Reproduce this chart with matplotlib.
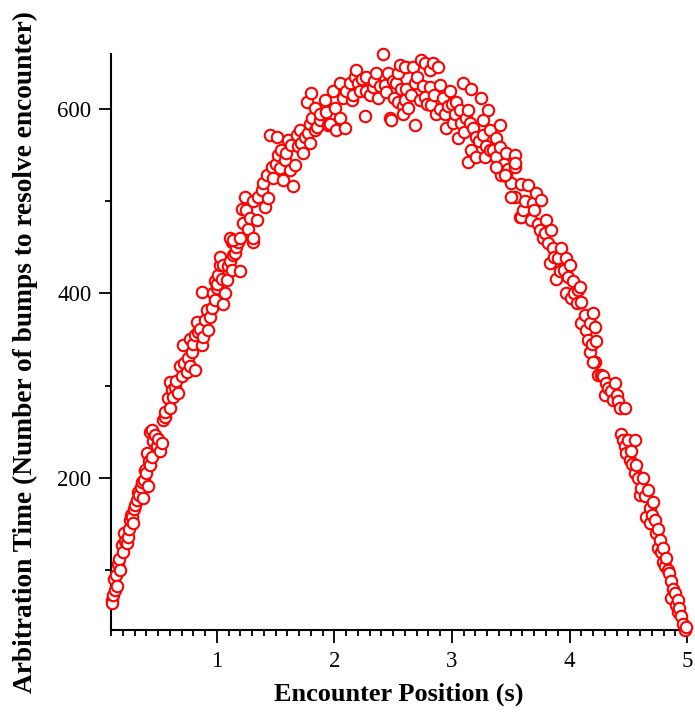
import numpy as np
import matplotlib.pyplot as plt
from matplotlib.ticker import MultipleLocator, FixedLocator

# encounter position (s) and arbitration time (bumps)
pos = [0.104, 0.108, 0.115, 0.12, 0.132, 0.14, 0.146, 0.157, 0.165, 0.174, 0.189, 0.2, 0.205, 0.215,
       0.231, 0.242, 0.25, 0.259, 0.265, 0.274, 0.285, 0.29, 0.302, 0.316, 0.327, 0.335, 0.35, 0.359,
       0.37, 0.38, 0.387, 0.395, 0.401, 0.412, 0.42, 0.429, 0.43, 0.444, 0.444, 0.455, 0.472, 0.49,
       0.5, 0.514, 0.529,
       0.543, 0.557, 0.56, 0.585, 0.6, 0.6, 0.615, 0.628, 0.642, 0.655, 0.67, 0.685, 0.699, 0.713,
       0.72, 0.741, 0.75, 0.77, 0.77, 0.784, 0.8, 0.812, 0.812, 0.826, 0.84, 0.855, 0.869, 0.869,
       0.883, 0.897, 0.911, 0.925, 0.94, 0.954, 0.968, 0.982, 0.982, 0.997, 1.0, 1.01, 1.025, 1.025,
       1.039, 1.053, 1.053, 1.067, 1.082, 1.095, 1.11, 1.124, 1.124, 1.138, 1.152, 1.16, 1.18, 1.195,
       1.11, 1.138, 1.195, 1.209, 1.223, 1.237, 1.25, 1.265, 1.28, 1.308, 1.308, 1.308, 1.337, 1.35,
       1.379, 1.39, 1.407, 1.422, 1.435, 1.45, 1.464, 1.478, 1.5, 1.507, 1.52, 1.535, 1.549, 1.563,
       1.577, 1.59, 1.606, 1.62, 1.634, 1.648, 1.662, 1.677, 1.69, 1.705, 1.719, 1.733, 1.75, 1.776,
       1.79, 1.79, 1.81, 1.833, 1.85, 1.875, 1.903, 1.92, 1.946,
       1.762, 1.804, 1.833, 1.875, 1.918, 1.932, 1.96, 1.988, 2.003, 2.017, 2.045, 2.045, 2.073,
       2.088, 2.1, 2.13, 2.145, 2.16, 2.173, 2.187, 2.2, 2.215, 2.23, 2.258, 2.272, 2.272, 2.3, 2.328,
       2.34, 2.357, 2.371, 2.39, 2.413, 2.428, 2.44, 2.456, 2.47, 2.485, 2.5, 2.51, 2.527, 2.541,
       2.541, 2.555, 2.57, 2.583, 2.598, 2.612,
       2.583, 2.598, 2.612, 2.626, 2.65, 2.668, 2.683, 2.683, 2.7, 2.725, 2.74, 2.75, 2.768, 2.768,
       2.79, 2.81, 2.81, 2.823, 2.838, 2.85, 2.866, 2.881, 2.895, 2.9, 2.923, 2.94, 2.952, 2.966,
       2.98, 3.0, 3.01, 3.023, 3.037, 3.051, 3.065, 3.08, 3.094, 3.1, 3.122, 3.136, 3.136, 3.15,
       3.165, 3.165, 3.179, 3.207, 3.207, 3.23, 3.25, 3.264, 3.264, 3.278, 3.29, 3.306, 3.32, 3.32,
       3.35, 3.377, 3.377, 3.405, 3.405, 3.42, 3.44, 3.463, 3.463, 3.48, 3.5, 3.533, 3.533, 3.533,
       3.576,
       3.377, 3.448, 3.505, 3.533, 3.59, 3.59, 3.604, 3.62, 3.646, 3.675, 3.689, 3.7, 3.718, 3.73,
       3.746, 3.76, 3.774, 3.79, 3.803, 3.82, 3.831, 3.845, 3.859, 3.87, 3.888, 3.901, 3.916, 3.93,
       3.95, 3.973, 3.973, 3.986, 4.0, 4.015, 4.029, 4.04, 4.06, 4.072, 4.086, 4.1, 4.1, 4.128, 4.14,
       4.157, 4.171, 4.171, 4.19, 4.199, 4.213, 4.213, 4.228, 4.242,
       4.199, 4.27, 4.284, 4.3, 4.313, 4.33, 4.355, 4.37, 4.384, 4.4, 4.412, 4.426, 4.469, 4.44,
       4.454, 4.47, 4.483, 4.497, 4.512, 4.526, 4.53, 4.554, 4.554, 4.568, 4.58, 4.596, 4.61, 4.624,
       4.64, 4.653, 4.667, 4.681, 4.681, 4.7, 4.709, 4.724, 4.738, 4.75, 4.752, 4.766, 4.78, 4.794,
       4.794, 4.81, 4.823, 4.837, 4.851, 4.866, 4.866, 4.88, 4.894, 4.908, 4.92, 4.922, 4.936, 4.951,
       4.965, 4.98, 4.994]

bumps = [68, 64, 73, 90, 79, 95, 83, 107, 112, 100, 127, 120, 140, 132,
         129, 136, 145, 154, 160, 158, 151, 166, 171, 176, 185, 182, 190, 196,
         178, 198, 209, 205, 227, 191, 218, 214, 250, 223, 252, 240, 247, 235,
         242, 229, 238,
         263, 266, 272, 287, 276, 304, 295, 288, 299, 305, 292, 321, 310, 344,
         325, 315, 330, 321, 351, 337, 345, 317, 355, 369, 358, 362, 344, 402,
         353, 371, 382, 360, 375, 384, 400, 393, 413, 406, 410, 420, 431, 440,
         416, 389, 431, 400, 415, 430, 435, 425, 456, 442, 444, 450, 456, 424,
         460, 458, 460, 492, 476, 505, 490, 470, 482, 456, 460, 500, 480, 505,
         512, 520, 494, 528, 503, 572, 537, 525, 540, 570, 550, 536, 556, 523,
         545, 552, 566, 534, 561, 516, 539, 572, 560, 577, 563, 552, 570, 574,
         563, 584, 590, 577, 580, 588, 595, 600, 583,
         608, 617, 601, 594, 610, 597, 584, 619, 601, 577, 590, 628, 612,
         579, 620, 628, 610, 615, 635, 642, 628, 620, 632, 592, 619, 635, 615, 624,
         630, 639, 612, 625, 660, 626, 618, 639, 590, 588, 630, 612, 628, 607,
         639, 648, 622, 603, 610, 645,
         594, 646, 622, 601, 615, 645, 583, 628, 635, 610, 653, 625, 613, 650,
         605, 624, 642, 604, 650, 615, 595, 646, 626, 600, 612, 595, 579, 603,
         619, 605, 585, 594, 608, 568, 599, 585, 628, 575, 590, 543, 599, 585,
         556, 622, 579, 548, 570, 565, 612, 572, 588, 548, 560, 599, 556, 577,
         555, 548, 568, 559, 583, 528, 540, 527, 552, 535, 520, 505, 537, 550,
         483,
         537, 528, 505, 541, 483, 519, 491, 500, 518, 480, 498, 490, 509, 475,
         469, 501, 460, 465, 480, 455, 433, 469, 449, 440, 416, 438, 424, 449,
         425, 400, 438, 418, 431, 395, 413, 400, 390, 404, 407, 368, 391, 377, 360,
         350, 337, 368, 345, 379, 326, 364, 348, 312,
         326, 312, 310, 290, 303, 298, 294, 285, 303, 290, 283, 276, 276, 248,
         241, 235, 227, 241, 220, 229, 215, 205, 241, 214, 200, 182, 189, 200,
         180, 158, 187, 151, 167, 160, 174, 154, 140, 145, 124, 133, 120, 109,
         124, 105, 113, 100, 97, 70, 88, 80, 75, 62, 55, 68, 59, 50,
         42, 35, 39]

plt.rcParams['font.family'] = ['Liberation Serif', 'DejaVu Serif']

fig = plt.figure(figsize=(6.95, 7.13), dpi=100)
ax = fig.add_axes([0.1597, 0.1164, 0.8288, 0.8079])

ax.scatter(pos, bumps, s=68, facecolors='white', edgecolors='#ff0000',
           linewidths=1.5, clip_on=False, zorder=3)

ax.set_xlim(0.098, 5.0)
ax.set_ylim(35.2, 659.6)

for side in ['top', 'right']:
    ax.spines[side].set_visible(False)
for side in ['left', 'bottom']:
    ax.spines[side].set_linewidth(1.5)

ax.xaxis.set_major_locator(FixedLocator([1, 2, 3, 4, 5]))
ax.xaxis.set_minor_locator(MultipleLocator(0.1))
ax.yaxis.set_major_locator(FixedLocator([200, 400, 600]))
ax.yaxis.set_minor_locator(FixedLocator([100, 300, 500]))
ax.tick_params(which='major', direction='out', length=9, width=1.3, labelsize=16.5, pad=6)
ax.tick_params(which='minor', direction='out', length=4, width=1.3)
ax.tick_params(axis='y', which='major', pad=5)

ax.set_xlabel('Encounter Position (s)', fontsize=19, fontweight='bold', labelpad=8)
ax.set_ylabel('Arbitration Time (Number of bumps to resolve encounter)', fontsize=19.7,
              fontweight='bold', labelpad=14)
# centre the long y title a little below the middle of the axis
ax.yaxis.label.set_y(0.483)

fig.savefig('out.png', dpi=100)
